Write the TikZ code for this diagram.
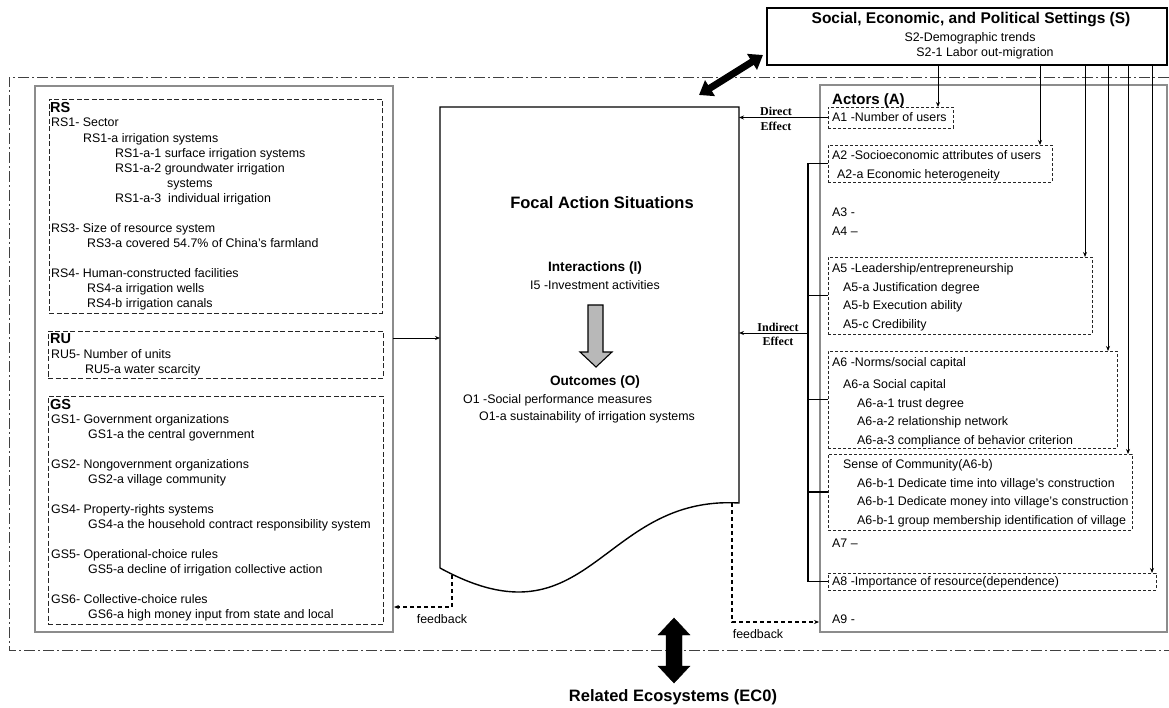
\documentclass[tikz,border=0pt]{standalone}
\usepackage{fontspec}
\setmainfont{Liberation Sans}
\newfontfamily\timesf{Liberation Serif}
\usetikzlibrary{arrows.meta}
\begin{document}
\begin{tikzpicture}[x=1pt,y=-1pt,
  txt/.style={anchor=base west,inner sep=0pt,font=\fontsize{12.4}{14}\selectfont},
  hdr/.style={anchor=base west,inner sep=0pt,font=\fontsize{14.5}{16}\selectfont\bfseries},
  ctr/.style={anchor=center,inner sep=0pt,font=\fontsize{12.4}{14}\selectfont},
  bold12/.style={anchor=center,inner sep=0pt,font=\fontsize{13.6}{15}\selectfont\bfseries},
  effl/.style={anchor=center,inner sep=0pt,font=\fontsize{12}{13}\selectfont\timesf\bfseries},
  box/.style={anchor=north west,inner sep=0pt,outer sep=0pt},
  ldash/.style={box,draw=black!85,line width=0.7pt,dash pattern=on 5pt off 2.5pt},
  adash/.style={box,draw=black!85,line width=0.7pt,dash pattern=on 3pt off 2pt},
  gbox/.style={box,draw=black!45,line width=2pt},
  sbox/.style={box,draw=black,line width=1.8pt},
  arr/.style={-{Stealth[length=5pt,width=4pt]},line width=1pt},
  fbarr/.style={-{Stealth[length=5pt,width=4pt]},line width=1.3pt,dash pattern=on 4pt off 3pt},
  outer/.style={draw=black!75,line width=0.8pt,dash pattern=on 11pt off 3pt on 2pt off 3pt}
]
\useasboundingbox (0,0) rectangle (1169,708);

% outer dash-dot frame
\draw[outer] (1169,77) -- (9,77) -- (9,650) -- (1169,650);

% ---------- left column ----------
\node[gbox,minimum width=358,minimum height=546] (L) at (35,86) {};
\node[ldash,minimum width=333,minimum height=214] (RS) at (49,99) {};
\node[ldash,minimum width=335,minimum height=47] (RU) at (48,331) {};
\node[ldash,minimum width=335,minimum height=228] (GS) at (48,396) {};

\node[hdr] (rs0) at (50,113) {RS};
\foreach \n/\x/\y/\t in {
  rs1/51/126.5/{RS1- Sector},
  rs2/83/142.5/{RS1-a irrigation systems},
  rs3/115/157.5/{RS1-a-1 surface irrigation systems},
  rs4/115/172.5/{RS1-a-2 groundwater irrigation},
  rs5/167/187.5/{systems},
  rs6/115/202.5/{RS1-a-3\ \ individual irrigation},
  rs7/51/232.5/{RS3- Size of resource system},
  rs8/87/247.5/{RS3-a covered 54.7\% of China’s farmland},
  rs9/51/277.5/{RS4- Human-constructed facilities},
  rs10/87/292.5/{RS4-a irrigation wells},
  rs11/87/307.5/{RS4-b irrigation canals},
  ru1/51/358.5/{RU5- Number of units},
  ru2/85/373.5/{RU5-a water scarcity},
  gs1/51/423.5/{GS1- Government organizations},
  gs2/88/438.5/{GS1-a the central government},
  gs3/51/468.5/{GS2- Nongovernment organizations},
  gs4/88/483.5/{GS2-a village community},
  gs5/51/513.5/{GS4- Property-rights systems},
  gs6/88/528.5/{GS4-a the household contract responsibility system},
  gs7/51/558.5/{GS5- Operational-choice rules},
  gs8/88/573.5/{GS5-a decline of irrigation collective action},
  gs9/51/603.5/{GS6- Collective-choice rules},
  gs10/88/618.5/{GS6-a high money input from state and local}}
  \node[txt] (\n) at (\x,\y) {\t};
\node[hdr] (ru0) at (50,344) {RU};
\node[hdr] (gs0) at (50,409) {GS};

% ---------- centre document ----------
\node[box,minimum width=299,minimum height=396] (F) at (440,107) {};
\draw[line width=1.4pt,line join=miter]
  (440,568) -- (F.north west) -- (F.north east) -- (739,503)
  .. controls (600,495) and (590,650) .. (440,568);

\node[anchor=center,inner sep=0pt,font=\fontsize{16.5}{18}\selectfont\bfseries] (fas) at (602,203) {Focal Action Situations};
\node[bold12] (int) at (595,268) {Interactions (I)};
\node[ctr] (i5) at (595,285) {I5 -Investment activities};
\draw[line width=1.1pt,fill=black!28]
  (588,305) -- (603,305) -- (603,352) -- (612,352) -- (596,367) -- (580,352) -- (588,352) -- cycle;
\node[bold12] (out) at (595,382) {Outcomes (O)};
\node[txt] (o1) at (463,403.5) {O1 -Social performance measures};
\node[txt] (o1a) at (479,420.5) {O1-a sustainability of irrigation systems};

% ---------- settings box ----------
\node[sbox,minimum width=400,minimum height=57] (S) at (767,8) {};
\node[anchor=center,inner sep=0pt,font=\fontsize{15.5}{17}\selectfont\bfseries] (st) at (971,20) {Social, Economic, and Political Settings (S)};
\node[ctr] (s2) at (970,38) {S2-Demographic trends};
\node[ctr] (s21) at (985,53) {S2-1 Labor out-migration};

% diagonal double arrow
\coordinate (dg1) at (699,95);
\coordinate (dg2) at (763,55);
\draw[line width=7pt,{Triangle[length=13pt,width=18pt]}-{Triangle[length=13pt,width=18pt]}] (dg1) -- (dg2);

% ---------- actors ----------
\node[gbox,minimum width=347,minimum height=547] (A) at (820,85) {};
\node[hdr,font=\fontsize{15}{17}\selectfont\bfseries] (act) at (832,105) {Actors (A)};
\node[adash,minimum width=125,minimum height=21] (A1) at (828,107) {};
\node[adash,minimum width=224,minimum height=37] (A2) at (828,145) {};
\node[adash,minimum width=264,minimum height=77] (A5) at (828,257) {};
\node[adash,minimum width=289,minimum height=97] (A6) at (828,351) {};
\node[adash,minimum width=304,minimum height=76] (A6b) at (828,454) {};
\node[adash,minimum width=328,minimum height=17] (A8) at (828,573) {};

\foreach \n/\x/\y/\t in {
  a1/832/121.5/{A1 -Number of users},
  a2/832/159.5/{A2 -Socioeconomic attributes of users},
  a2a/837/178.5/{A2-a Economic heterogeneity},
  a3/832/216.5/{A3 -},
  a4/832/235.5/{A4 –},
  a5/832/272.5/{A5 -Leadership/entrepreneurship},
  a5a/843/291.5/{A5-a Justification degree},
  a5b/843/309.5/{A5-b Execution ability},
  a5c/843/328.5/{A5-c Credibility},
  a6/832/366.5/{A6 -Norms/social capital},
  a6a/843/388.5/{A6-a Social capital},
  a6a1/857/407.5/{A6-a-1 trust degree},
  a6a2/857/425.5/{A6-a-2 relationship network},
  a6a3/857/444.5/{A6-a-3 compliance of behavior criterion},
  a6b/843/468.5/{Sense of Community(A6-b)},
  a6b1/857/487.5/{A6-b-1 Dedicate time into village’s construction},
  a6b2/857/505.5/{A6-b-1 Dedicate money into village’s construction},
  a6b3/857/524.5/{A6-b-1 group membership identification of village},
  a7/832/547.5/{A7 –},
  a8/832/585.5/{A8 -Importance of resource(dependence)},
  a9/832/623.5/{A9 -}}
  \node[txt] (\n) at (\x,\y) {\t};

% arrows from settings to actors
\coordinate (v1) at (938,0);
\coordinate (v2) at (1040,0);
\coordinate (v3) at (1085,0);
\coordinate (v4) at (1108,0);
\coordinate (v5) at (1128,0);
\coordinate (v6) at (1152,0);
\draw[arr] (v1 |- S.south) -- (v1 |- A1.north);
\draw[arr] (v2 |- S.south) -- (v2 |- A2.north);
\draw[arr] (v3 |- S.south) -- (v3 |- A5.north);
\draw[arr] (v4 |- S.south) -- (v4 |- A6.north);
\draw[arr] (v5 |- S.south) -- (v5 |- A6b.north);
\draw[arr] (v6 |- S.south) -- (v6 |- A8.north);

% direct effect
\draw[arr] (A1.west) -- (A1.west -| F.east);
\node[effl] (de1) at (776,111) {Direct};
\node[effl] (de2) at (776,126) {Effect};

% indirect effect bus
\coordinate (bus) at (808,0);
\draw[line width=1.4pt] (A2.west) -- (bus |- A2.west) -- (bus |- A8.west) -- (A8.west);
\draw[line width=1.4pt] (bus |- A5.west) -- (A5.west);
\draw[line width=1.4pt] (bus |- A6.west) -- (A6.west);
\draw[line width=1.4pt] (bus |- A6b.west) -- (A6b.west);
\coordinate (ind) at (808,333);
\draw[arr] (ind) -- (ind -| F.east);
\node[effl] (ie1) at (778,327) {Indirect};
\node[effl] (ie2) at (778,341) {Effect};

% left to centre
\coordinate (lr) at (393,338);
\draw[arr] (lr) -- (lr -| F.west);

% feedback
\coordinate (fb1) at (452,575);
\coordinate (fbL) at (394,607);
\draw[fbarr] (fb1) |- (fbL);
\node[ctr] (fbt1) at (442,619) {feedback};
\coordinate (fb2) at (732,503);
\coordinate (fbA) at (819,622);
\draw[fbarr] (fb2) |- (fbA);
\node[ctr] (fbt2) at (758,634) {feedback};

% related ecosystems
\draw[fill=black]
  (674,618) -- (690,635) -- (682,635) -- (682,666) -- (690,666) -- (674,683)
  -- (658,666) -- (666,666) -- (666,635) -- (658,635) -- cycle;
\node[anchor=center,inner sep=0pt,font=\fontsize{16.5}{18}\selectfont\bfseries] (eco) at (673,697) {Related Ecosystems (EC0)};
\end{tikzpicture}
\end{document}
